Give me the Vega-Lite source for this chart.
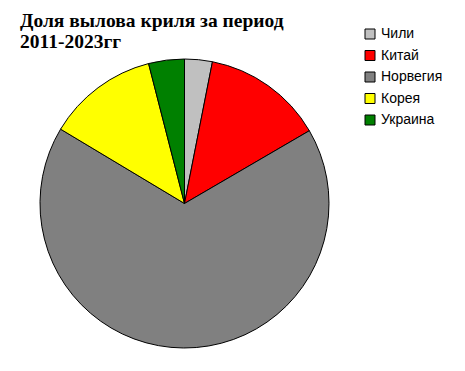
{
  "$schema": "https://vega.github.io/schema/vega-lite/v6.json",
  "autosize": "none",
  "width": 289,
  "height": 289,
  "padding": {"left": 40, "top": 59, "right": 136, "bottom": 23},
  "background": "white",
  "config": {"view": {"stroke": null}},
  "title": {
    "text": ["Доля вылова криля за период", "2011-2023гг"],
    "anchor": "start",
    "dx": -18,
    "offset": -25,
    "font": "Liberation Serif",
    "fontSize": 19.5,
    "fontWeight": "bold",
    "lineHeight": 21,
    "color": "black"
  },
  "data": {
    "values": [
      {"country": "Чили", "share": 3.1},
      {"country": "Китай", "share": 13.5},
      {"country": "Норвегия", "share": 67.0},
      {"country": "Корея", "share": 12.4},
      {"country": "Украина", "share": 4.0}
    ]
  },
  "transform": [{"window": [{"op": "row_number", "as": "rank"}]}],
  "mark": {"type": "arc", "stroke": "black", "strokeWidth": 1},
  "encoding": {
    "theta": {"field": "share", "type": "quantitative", "stack": true},
    "order": {"field": "rank", "type": "quantitative"},
    "color": {
      "field": "country",
      "type": "nominal",
      "sort": ["Чили", "Китай", "Норвегия", "Корея", "Украина"],
      "scale": {
        "domain": ["Чили", "Китай", "Норвегия", "Корея", "Украина"],
        "range": ["#C0C0C0", "#FF0000", "#808080", "#FFFF00", "#008000"]
      },
      "legend": {
        "title": null,
        "orient": "none",
        "legendX": 323,
        "legendY": -32,
        "padding": 0,
        "symbolType": "square",
        "symbolSize": 100,
        "symbolStrokeColor": "black",
        "symbolStrokeWidth": 1,
        "labelFont": "Liberation Sans",
        "labelFontSize": 14,
        "labelColor": "black",
        "labelOffset": 4,
        "rowPadding": 7.5
      }
    }
  }
}
